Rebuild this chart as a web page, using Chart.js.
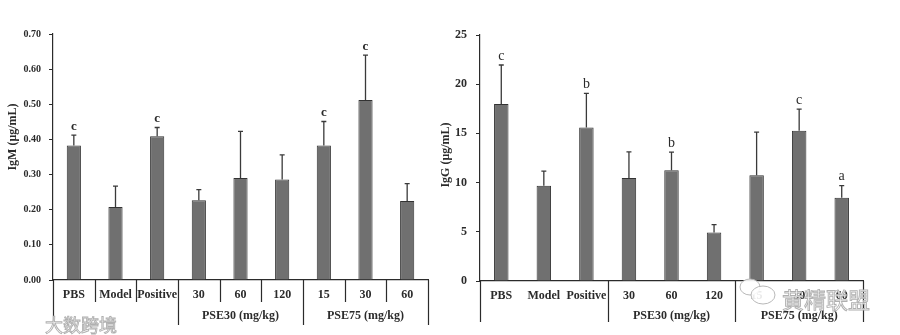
<!DOCTYPE html>
<html>
<head>
<meta charset="utf-8">
<script src="https://cdn.jsdelivr.net/npm/chart.js@4.4.0/dist/chart.umd.min.js"></script>
<style>
  body { margin: 0; background: #fff; }
  #wrap { position: relative; width: 900px; height: 335px; }
  .box { position: absolute; top: 0; height: 335px; }
</style>
</head>
<body>
<div id="wrap">
  <div class="box" style="left:0;width:440px"><canvas id="igmChart"></canvas></div>
  <div class="box" style="left:440px;width:460px"><canvas id="iggChart"></canvas></div>
</div>
<script>
// data
const categories = ['PBS', 'Model', 'Positive', '30', '60', '120', '15', '30', '60'];
const groupLabels = ['', 'PSE30 (mg/kg)', 'PSE75 (mg/kg)'];
const groupStarts = [0, 3, 6];
const groupEnds = [2, 5, 8];

const igmMeans = [0.383, 0.208, 0.409, 0.227, 0.290, 0.286, 0.383, 0.512, 0.225];
const igmErrors = [0.029, 0.059, 0.025, 0.030, 0.133, 0.070, 0.068, 0.128, 0.049];
const igmLetters = ['c', '', 'c', '', '', '', 'c', 'c', ''];

const iggMeans = [17.98, 9.67, 15.6, 10.48, 11.26, 4.92, 10.75, 15.26, 8.45];
const iggErrors = [3.97, 1.49, 3.46, 2.65, 1.84, 0.81, 4.38, 2.21, 1.25];
const iggLetters = ['c', '', 'b', '', 'b', '', '', 'c', 'a'];

const SERIF = '"Liberation Serif", "Times New Roman", serif';
const INK = '#2b2b2b';

// error bars + significance letters
const errorBarPlugin = {
  id: 'errorBars',
  afterDatasetsDraw(chart, args, opts) {
    const ctx = chart.ctx;
    const meta = chart.getDatasetMeta(0);
    const yScale = chart.scales.y;
    ctx.save();
    meta.data.forEach((bar, i) => {
      const top = yScale.getPixelForValue(opts.means[i] + opts.errors[i]);
      ctx.strokeStyle = '#3a3a3a';
      ctx.lineWidth = 1.3;
      ctx.beginPath();
      ctx.moveTo(bar.x, bar.y);
      ctx.lineTo(bar.x, top);
      ctx.moveTo(bar.x - 2.5, top);
      ctx.lineTo(bar.x + 2.5, top);
      ctx.stroke();
      if (opts.letters[i]) {
        ctx.fillStyle = INK;
        ctx.font = opts.letterFont;
        ctx.textAlign = 'center';
        ctx.textBaseline = 'bottom';
        ctx.fillText(opts.letters[i], bar.x, top - 2);
      }
    });
    ctx.restore();
  }
};

// table-like x axis with group row, y title, watermark
const tablePlugin = {
  id: 'xTable',
  afterDraw(chart, args, opts) {
    const ctx = chart.ctx;
    const x = chart.scales.x;
    const area = chart.chartArea;
    const w = x.width / categories.length;
    ctx.save();
    ctx.strokeStyle = INK;
    ctx.lineWidth = 1.2;
    ctx.beginPath();
    for (let i = 0; i <= categories.length; i++) {
      const px = Math.round(x.left + i * w) + 0.5;
      const isGroupEdge = i === 0 || groupStarts.includes(i) || i === categories.length;
      if (isGroupEdge) {
        ctx.moveTo(px, area.bottom);
        ctx.lineTo(px, opts.groupBottom);
      } else if (opts.innerLines) {
        ctx.moveTo(px, area.bottom);
        ctx.lineTo(px, opts.rowBottom);
      }
    }
    ctx.stroke();

    ctx.fillStyle = INK;
    ctx.font = 'bold 12px ' + SERIF;
    ctx.textAlign = 'center';
    ctx.textBaseline = 'middle';
    groupLabels.forEach((lab, g) => {
      if (!lab) return;
      const cx = x.left + (groupStarts[g] + groupEnds[g] + 1) / 2 * w;
      ctx.fillText(lab, cx, opts.groupY);
    });

    // y axis title
    ctx.save();
    ctx.translate(opts.titleX, opts.titleY);
    ctx.rotate(-Math.PI / 2);
    ctx.font = 'bold 12px ' + SERIF;
    ctx.fillText(opts.title, 0, 0);
    ctx.restore();

    // watermark
    const m = opts.mark;
    if (m) {
      ctx.lineWidth = 0.9;
      ctx.fillStyle = 'rgba(255,255,255,0.9)';
      ctx.strokeStyle = '#b0b0b0';
      if (m.bubbles) {
        m.bubbles.forEach(b => {
          ctx.beginPath();
          ctx.ellipse(b[0], b[1], b[2], b[3], 0, 0, Math.PI * 2);
          ctx.fill();
          ctx.stroke();
        });
      }
      ctx.font = m.font;
      ctx.textAlign = 'left';
      ctx.fillText(m.text, m.x, m.y);
      ctx.strokeText(m.text, m.x, m.y);
    }
    ctx.restore();
  }
};

function makeChart(id, means, errors, letters, cfg) {
  const ctx = document.getElementById(id).getContext('2d');
  return new Chart(ctx, {
    type: 'bar',
    data: {
      labels: categories,
      datasets: [{
        data: means,
        backgroundColor: '#707070',
        borderColor: '#333333',
        borderWidth: 1,
        barPercentage: 0.34,
        categoryPercentage: 1
      }]
    },
    options: {
      responsive: true,
      maintainAspectRatio: false,
      animation: false,
      layout: { padding: cfg.padding },
      plugins: {
        legend: { display: false },
        tooltip: { enabled: false },
        errorBars: { means: means, errors: errors, letters: letters, letterFont: cfg.letterFont },
        xTable: cfg.table
      },
      scales: {
        x: {
          grid: { display: false, drawTicks: false },
          border: { display: true, color: INK, width: 1.2 },
          ticks: {
            autoSkip: false, maxRotation: 0, padding: 8,
            color: INK, font: { family: SERIF, size: 12, weight: 'bold' }
          },
          afterFit: s => { s.height = cfg.xHeight; }
        },
        y: {
          min: 0, max: cfg.yMax,
          grid: { drawOnChartArea: false, tickLength: 4, color: INK },
          border: { display: true, color: INK, width: 1.2 },
          ticks: {
            stepSize: cfg.yStep, padding: cfg.tickPad, color: INK,
            font: { family: SERIF, size: cfg.tickSize, weight: 'bold' },
            callback: cfg.fmt
          },
          afterFit: s => { s.width = cfg.yWidth; }
        }
      }
    },
    plugins: [errorBarPlugin, tablePlugin]
  });
}

makeChart('igmChart', igmMeans, igmErrors, igmLetters, {
  padding: { left: 0, top: 34, right: 12, bottom: 0 },
  xHeight: 55, yWidth: 53, yMax: 0.7, yStep: 0.1, tickSize: 10, tickPad: 8,
  fmt: v => v.toFixed(2),
  letterFont: 'bold 13px ' + SERIF,
  table: {
    innerLines: true, rowBottom: 302, groupBottom: 325, groupY: 316,
    title: 'IgM (\u03bcg/mL)', titleX: 13, titleY: 137,
    mark: { text: '\u5927\u6570\u8de8\u5883', x: 45, y: 325, font: '18px "Noto Sans CJK SC"' }
  }
});

makeChart('iggChart', iggMeans, iggErrors, iggLetters, {
  padding: { left: 0, top: 35, right: 37, bottom: 0 },
  xHeight: 54, yWidth: 40, yMax: 25, yStep: 5, tickSize: 12, tickPad: 9,
  fmt: v => v,
  letterFont: '14px ' + SERIF,
  table: {
    innerLines: false, rowBottom: 302, groupBottom: 322, groupY: 316,
    title: 'IgG (\u03bcg/mL)', titleX: 6, titleY: 155,
    mark: {
      text: '\u9ec4\u7cbe\u8054\u76df', x: 342, y: 300, font: '22px "Noto Sans CJK SC"',
      bubbles: [[310, 287, 10, 8], [323, 295, 12, 9]]
    }
  }
});
</script>
</body>
</html>
